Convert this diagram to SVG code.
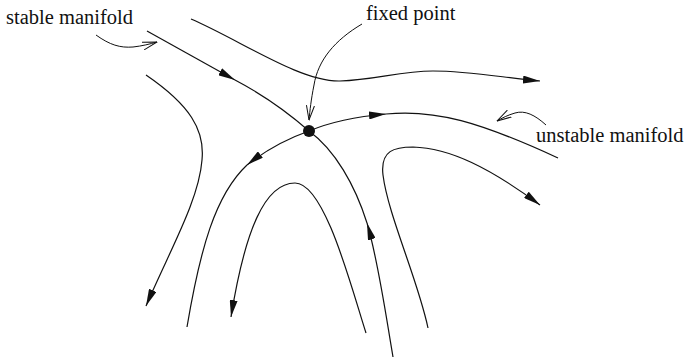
<svg xmlns="http://www.w3.org/2000/svg" width="686" height="359" viewBox="0 0 686 359">
<style>
.c{fill:none;stroke:#111;stroke-width:1.2}
.p{fill:none;stroke:#111;stroke-width:1}
.t{font-family:"Liberation Serif","Times New Roman",serif;font-size:20.5px;fill:#111}
</style>
<defs>
<marker id="a" viewBox="0 0 17 8" refX="17" refY="4" markerWidth="17" markerHeight="8" markerUnits="userSpaceOnUse" orient="auto">
<path d="M0,0 L17,4 L0,8 Z" fill="#111"/>
</marker>
<marker id="o" viewBox="0 0 15 9" refX="14.5" refY="4.5" markerWidth="15" markerHeight="9" markerUnits="userSpaceOnUse" orient="auto">
<path d="M0,0.5 L14.5,4.5 L0,8.5" fill="none" stroke="#111" stroke-width="1"/>
</marker>
</defs>
<g id="connectors">
<path class="c" d="M191,19 C240,40 300,82 340,81 C375,80 400,71 433,71 C470,71 505,78 540,81" marker-end="url(#a)"/>
<path class="c" d="M147,31 Q190,55 235,80" marker-end="url(#a)"/>
<path class="c" d="M235,80 Q275,101 309,131"/>
<path class="c" d="M393,357 C385,310 378,260 367,223" marker-end="url(#a)"/>
<path class="c" d="M367,223 C355,185 335,150 309,131"/>
<path class="c" d="M309,131 Q275,143 247,165" marker-end="url(#a)"/>
<path class="c" d="M247,165 C215,195 200,250 187,327"/>
<path class="c" d="M309,131 Q340,118 386,114" marker-end="url(#a)"/>
<path class="c" d="M386,114 C435,109 480,122 558,158"/>
<path class="c" d="M428,328 C418,280 388,215 383,175 C380,150 395,147 413,147 C450,148 490,168 540,205" marker-end="url(#a)"/>
<path class="c" d="M366,333 C352,290 325,183 295,183 C265,183 245,230 231,317" marker-end="url(#a)"/>
<path class="c" d="M146,75 C190,105 205,130 202,160 C199,200 170,250 146,306" marker-end="url(#a)"/>
<path class="p" d="M96,35 C110,45 120,48 133,47 C142,46 150,44 157,42" marker-end="url(#o)"/>
<path class="p" d="M362,24 C335,40 318,60 314,85 C311,100 310,110 309,120" marker-end="url(#o)"/>
<path class="p" d="M546,125 C535,115 525,110 515,113 C508,115 502,118 497,121" marker-end="url(#o)"/>
</g>
<g id="fixed-point"><circle cx="309" cy="131" r="6" fill="#111"/></g>
<g id="label-stable"><text class="t" x="6" y="24">stable manifold</text></g>
<g id="label-fixed"><text class="t" x="366" y="20">fixed point</text></g>
<g id="label-unstable"><text class="t" x="536" y="142">unstable manifold</text></g>
</svg>
